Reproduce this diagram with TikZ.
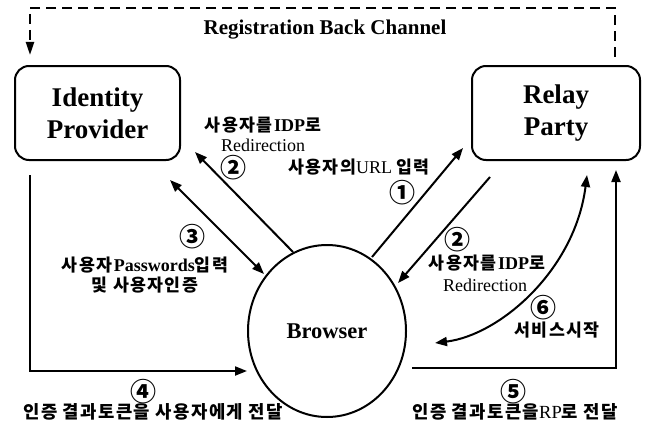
\documentclass[tikz,border=0pt]{standalone}
\usepackage{fontspec}
\setmainfont{Liberation Serif}
\newfontfamily\kr{Noto Sans CJK KR}[Scale=0.96, LetterSpace=8]
\newfontfamily\krnum{Noto Sans CJK KR}
\usetikzlibrary{arrows.meta,shapes.geometric}

% Hangul runs in a bold sans, circled step numbers in the CJK face
\newcommand\hg[1]{{\kr\bfseries #1}}
\newcommand\stepno[1]{{\krnum\bfseries #1}}

\tikzset{
  entity/.style={draw, line width=2pt, rounded corners=14pt, inner sep=0pt,
    align=center, font=\bfseries\fontsize{27}{32}\selectfont},
  client/.style={draw, ellipse, line width=2pt, inner sep=0pt,
    minimum width=158pt, minimum height=172pt,
    font=\bfseries\fontsize{22.5}{26}\selectfont},
  flow/.style={line width=2pt, -{Triangle[length=12pt,width=9pt]}},
  twoway/.style={line width=2pt, {Triangle[length=12pt,width=9pt]}-{Triangle[length=12pt,width=9pt]}},
  backchannel/.style={line width=2.2pt, dash pattern=on 10pt off 6pt,
    -{Triangle[length=13pt,width=8pt]}},
  lbl/.style={inner sep=0pt, align=center, font=\fontsize{18}{20}\selectfont},
  biglbl/.style={inner sep=0pt, align=center, font=\fontsize{18.5}{20}\selectfont},
  num/.style={inner sep=0pt, font=\fontsize{26}{27}\selectfont},
}

\begin{document}
\begin{tikzpicture}[x=1pt,y=-1pt]
\path[fill=white, use as bounding box] (0,0) rectangle (647,428);

% parties
\node[entity, minimum width=165pt, minimum height=94pt] (idp) at (97.5,113) {Identity\\Provider};
\node[entity, minimum width=168pt, minimum height=94pt] (rp) at (556,113) {Relay\\Party};
\node[client] (browser) at (327,331) {Browser};

% connector end points
\coordinate (regR) at (615,57);
\coordinate (regL) at (30,55);
\coordinate (b1) at (372,257);   \coordinate (r1) at (463,148);
\coordinate (r2) at (490,177);   \coordinate (b2r) at (398,283);
\coordinate (b2l) at (293,252);  \coordinate (i2) at (195,152);
\coordinate (i3) at (170,180);   \coordinate (b3) at (264,274);
\coordinate (i4) at (30,175);    \coordinate (b4) at (247,371);
\coordinate (b5) at (412,368);   \coordinate (r5) at (616,170);
\coordinate (b6) at (435,343);   \coordinate (r6) at (587,175);

% registration back channel
\draw[backchannel] (regR) -- ++(0,-49) -| (regL);
\node[inner sep=0pt, font=\bfseries\fontsize{21}{24}\selectfont] (regtxt) at (325,30) {Registration Back Channel};

% message flows
\draw[flow] (b1) -- (r1);
\draw[flow] (r2) -- (b2r);
\draw[flow] (b2l) -- (i2);
\draw[twoway] (i3) -- (b3);
\draw[flow] (i4) |- (b4);
\draw[flow] (b5) -| (r5);
\draw[twoway] (b6) .. controls (500,335) and (575,270) .. (r6);

% labels
\node[num] (n2l) at (233,168) {\stepno{②}};
\node[lbl] (t2la) at (263,125) {\hg{사용자를}\textbf{IDP}\hg{로}};
\node[lbl] (t2lb) at (263,145) {Redirection};

\node[lbl] (t1) at (359,167) {\hg{사용자의}URL \hg{입력}};
\node[num] (n1) at (402,193) {\stepno{①}};

\node[num] (n2r) at (457,240) {\stepno{②}};
\node[lbl] (t2ra) at (487,263) {\hg{사용자를}\textbf{IDP}\hg{로}};
\node[lbl] (t2rb) at (485,285) {Redirection};

\node[num] (n3) at (192,237) {\stepno{③}};
\node[lbl] (t3) at (145,275) {\hg{사용자}\textbf{Passwords}\hg{입력}\\\hg{및 사용자인증}};

\node[num] (n6) at (543,308) {\stepno{⑥}};
\node[lbl] (t6) at (557,330) {\hg{서비스시작}};

\node[num] (n4) at (143,392) {\stepno{④}};
\node[biglbl] (t4) at (153,412) {\hg{인증 결과토큰을 사용자에게 전달}};

\node[num] (n5) at (513,392) {\stepno{⑤}};
\node[biglbl] (t5) at (515,412) {\hg{인증 결과토큰을}RP\hg{로 전달}};
\end{tikzpicture}
\end{document}
